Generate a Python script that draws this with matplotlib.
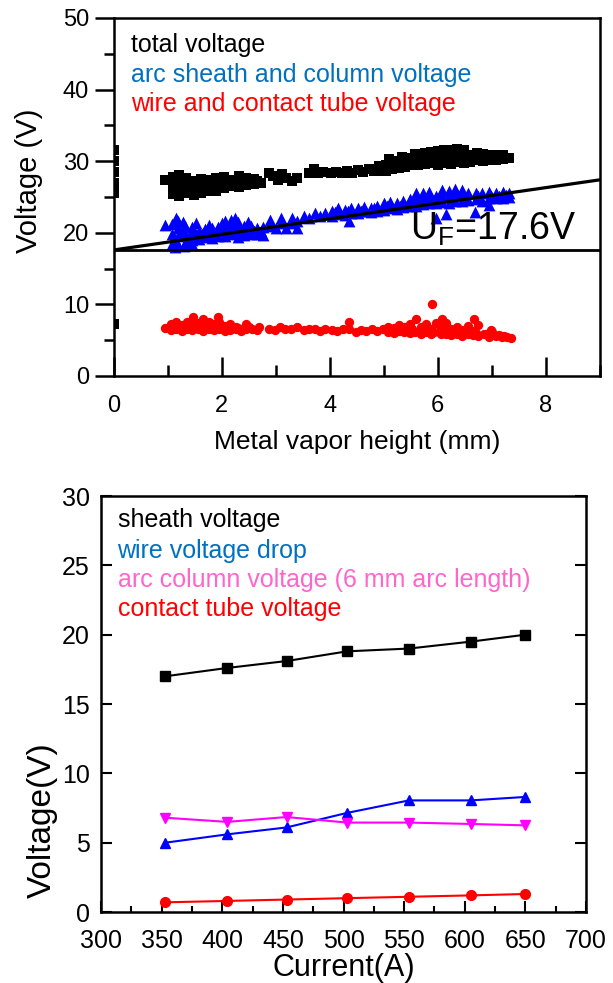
import numpy as np
import matplotlib
matplotlib.use("Agg")
import matplotlib.pyplot as plt
from matplotlib.ticker import MultipleLocator

plt.rcParams['font.family'] = ['Liberation Sans', 'DejaVu Sans']
plt.rcParams['mathtext.fontset'] = 'custom'
plt.rcParams['mathtext.rm'] = 'Liberation Sans'
plt.rcParams['mathtext.it'] = 'Liberation Sans'

# ---- top panel: voltage vs metal vapor height ----
total_x = [0, 0, 0, 0, 0, 0,
           0.95,
           1.10, 1.10, 1.10, 1.22, 1.22, 1.22, 1.22, 1.35, 1.35, 1.35, 1.48, 1.48, 1.48,
           1.62, 1.62, 1.62, 1.76, 1.76, 1.76, 1.90, 1.90, 1.90,
           2.04, 2.04, 2.04, 2.18, 2.18, 2.32, 2.32, 2.32, 2.46, 2.46, 2.60, 2.60, 2.72,
           1.16, 1.28, 1.42, 1.55, 1.69, 1.83, 1.97, 2.11, 2.25, 2.39, 2.53, 2.66,
           2.88, 2.95, 3.05, 3.12, 3.20, 3.30, 3.40,
           3.62, 3.70, 3.78, 3.88,
           4.02, 4.12, 4.22, 4.32, 4.42, 4.52, 4.62, 4.72, 4.82,
           4.92, 4.92, 5.04, 5.04, 5.16, 5.16, 5.28, 5.28, 5.40, 5.40,
           5.10, 5.34, 5.58,
           5.52, 5.52, 5.64, 5.64, 5.64, 5.76, 5.76, 5.76, 5.88, 5.88, 5.88,
           6.00, 6.00, 6.00, 6.12, 6.12, 6.12, 6.24, 6.24, 6.24, 6.36, 6.36, 6.36, 6.48, 6.48, 6.48,
           6.60, 6.60, 6.72, 6.72, 6.84, 6.84, 6.96, 6.96,
           7.08, 7.08, 7.20, 7.20, 7.32]
total_y = [25.5, 27.0, 28.5, 30.0, 31.5, 7.2,
           27.4,
           25.4, 26.6, 27.8, 25.2, 26.4, 27.6, 28.1, 25.5, 26.7, 27.6, 25.3, 26.4, 27.3,
           25.6, 26.7, 27.5, 25.8, 26.9, 27.4, 25.9, 26.8, 27.6,
           26.3, 27.2, 27.8, 26.5, 27.4, 26.4, 27.3, 27.9, 26.7, 27.6, 26.8, 27.5, 26.9,
           26.0, 27.0, 25.9, 27.0, 26.1, 26.3, 27.1, 26.9, 26.8, 27.1, 27.2, 27.2,
           28.3, 27.9, 27.4, 28.2, 27.6, 27.3, 27.6,
           28.4, 28.9, 28.3, 28.5,
           28.4, 28.5, 28.3, 28.6, 28.4, 28.8, 28.5, 28.9, 28.6,
           28.6, 29.3, 28.7, 29.5, 28.9, 29.8, 29.0, 30.0, 29.2, 30.2,
           30.3, 30.6, 31.0,
           29.4, 30.4, 29.5, 30.6, 31.0, 29.6, 30.5, 31.2, 29.7, 30.8, 31.3,
           29.5, 30.5, 31.4, 29.8, 30.7, 31.6, 29.6, 30.6, 31.6, 29.9, 30.9, 31.7, 29.7, 30.8, 31.5,
           29.9, 30.8, 30.1, 31.1, 30.0, 31.0, 30.2, 30.9,
           30.1, 30.9, 30.3, 30.8, 30.4]

arc_x = [0.95,
         1.08, 1.08, 1.08, 1.15, 1.20, 1.20, 1.20, 1.20, 1.32, 1.32, 1.32, 1.45, 1.45, 1.45,
         1.58, 1.58, 1.70, 1.70, 1.82, 1.82, 1.94, 1.94,
         2.06, 2.06, 2.06, 2.18, 2.18, 2.18, 2.30, 2.30, 2.30, 2.42, 2.42, 2.54, 2.54, 2.66, 2.66, 2.76, 2.76,
         1.14, 1.26, 1.38, 1.52, 1.64, 1.76, 1.88, 2.00, 2.12, 2.24, 2.36, 2.48, 2.60, 2.72,
         1.28, 1.52, 1.76, 2.00, 2.24, 2.48, 1.14, 1.30, 1.45,
         2.90, 2.90, 3.00, 3.10, 3.10, 3.20, 3.30, 3.30, 3.40, 3.40,
         3.52, 3.62, 3.72, 3.82, 3.92,
         4.04, 4.04, 4.16, 4.16, 4.28, 4.28, 4.36, 4.40, 4.40, 4.52, 4.52, 4.64, 4.64, 4.76, 4.76, 4.88, 4.88,
         5.00, 5.00, 5.12, 5.12, 5.24, 5.24, 5.36, 5.36, 5.48, 5.48,
         5.60, 5.60, 5.60, 5.72, 5.72, 5.72, 5.84, 5.84, 5.84, 5.97, 5.96, 5.96,
         6.08, 6.08, 6.08, 6.15, 6.20, 6.20, 6.20, 6.32, 6.32, 6.32, 6.44, 6.44, 6.44, 6.56, 6.56,
         6.68, 6.70, 6.70, 6.82, 6.82, 6.95, 6.95, 6.95,
         7.08, 7.08, 7.20, 7.20, 7.32, 7.32,
         4.10, 4.34, 4.58, 4.82, 5.06, 5.30, 5.54, 5.78, 6.02, 6.26, 6.50, 6.74, 6.98, 7.14, 7.26]
arc_y = [21.1,
         18.5, 19.8, 21.2, 22.0, 18.3, 19.5, 20.6, 21.6, 18.6, 19.8, 20.9, 19.0, 20.1, 20.8,
         19.2, 20.3, 19.4, 20.5, 19.3, 20.6, 19.6, 20.8,
         19.5, 20.7, 21.6, 19.8, 20.9, 21.8, 19.4, 20.6, 21.5, 19.7, 20.9, 19.8, 21.0, 19.9, 20.6, 19.7, 20.8,
         19.1, 20.1, 19.3, 19.7, 19.9, 20.0, 19.9, 20.2, 20.3, 20.1, 20.2, 20.4, 20.3, 20.2,
         21.5, 21.3, 21.1, 21.3, 22.0, 21.5, 18.0, 18.1, 18.4,
         21.0, 21.8, 20.6, 21.3, 22.0, 20.7, 21.4, 22.1, 20.6, 21.6,
         22.4, 22.1, 22.7, 22.3, 22.8,
         22.4, 23.1, 22.6, 23.4, 22.5, 23.2, 21.6, 22.8, 23.5, 22.7, 23.4, 23.0, 23.6, 22.9, 23.5, 23.1, 23.8,
         23.2, 24.1, 23.4, 24.3, 23.3, 24.2, 23.6, 24.5, 23.7, 24.7,
         23.8, 24.8, 25.5, 24.0, 24.9, 25.6, 24.1, 25.0, 25.7, 22.0, 24.2, 25.1,
         24.3, 25.2, 26.0, 22.6, 24.2, 25.1, 25.9, 24.4, 25.3, 26.1, 24.5, 25.4, 26.0, 24.6, 25.5,
         22.9, 24.7, 25.6, 24.5, 25.5, 23.9, 24.8, 25.7,
         24.8, 25.6, 24.9, 25.7, 25.0, 25.5,
         22.9, 23.0, 23.1, 23.4, 23.7, 23.8, 24.2, 24.5, 24.7, 24.8, 25.0, 25.1, 25.2, 25.2, 25.3]

wire_x = [0.95,
          1.06, 1.06, 1.16, 1.16, 1.26, 1.26, 1.36, 1.36, 1.46, 1.46, 1.47,
          1.56, 1.56, 1.66, 1.66, 1.66, 1.76, 1.76, 1.86, 1.86, 1.93, 1.96, 1.96,
          2.06, 2.06, 2.16, 2.16, 2.26, 2.26, 2.36, 2.46, 2.46, 2.56, 2.66, 2.70,
          1.11, 1.31, 1.51, 1.71, 1.91, 2.11, 2.31, 2.51,
          2.88, 2.98, 3.08, 3.18, 3.28, 3.40,
          3.52, 3.62, 3.72, 3.82, 3.92,
          4.04, 4.14, 4.24, 4.36, 4.36, 4.48, 4.58, 4.68, 4.78, 4.88, 4.98,
          5.08, 5.08, 5.18, 5.18, 5.28, 5.28, 5.38, 5.38, 5.48, 5.48, 5.58, 5.60, 5.68, 5.68,
          5.78, 5.78, 5.88, 5.88, 5.90, 5.96,
          5.13, 5.33, 5.53, 5.73, 5.93,
          6.05, 6.05, 6.08, 6.15, 6.15, 6.15, 6.25, 6.25, 6.35, 6.35, 6.45, 6.45, 6.55, 6.55,
          6.67, 6.65, 6.65, 6.75, 6.75, 6.85, 6.95, 6.98,
          6.10, 6.30, 6.50, 6.70, 6.90, 7.00, 7.13, 7.23,
          7.08, 7.18, 7.28, 7.35]
wire_y = [6.7,
          6.4, 7.3, 6.5, 7.6, 6.3, 7.1, 6.6, 7.5, 6.4, 7.2, 8.2,
          6.5, 7.4, 6.3, 7.2, 8.0, 6.6, 7.5, 6.4, 7.3, 8.3, 6.5, 7.6,
          6.3, 7.0, 6.4, 7.2, 6.5, 6.9, 6.3, 6.5, 7.3, 6.6, 6.4, 6.8,
          6.9, 6.9, 6.9, 6.9, 6.9, 6.7, 6.7, 6.9,
          6.5, 6.4, 6.8, 6.5, 6.6, 6.9,
          6.4, 6.5, 6.6, 6.3, 6.5,
          6.4, 6.3, 6.6, 7.6, 6.5, 6.2, 6.4, 6.3, 6.6, 6.3, 6.5,
          6.2, 6.9, 6.0, 6.7, 6.3, 7.1, 6.1, 6.8, 6.0, 7.3, 6.2, 8.0, 5.9, 6.8,
          6.1, 7.2, 5.8, 6.6, 10.1, 7.4,
          6.5, 6.6, 6.6, 6.4, 6.2,
          5.9, 6.7, 7.9, 5.8, 6.5, 7.4, 5.7, 6.6, 5.8, 6.9, 5.6, 6.4, 5.9, 7.0,
          8.0, 5.7, 6.3, 5.6, 7.1, 5.8, 5.5, 6.4,
          6.2, 6.3, 6.1, 6.0, 5.9, 6.1, 5.7, 5.6,
          5.6, 5.4, 5.5, 5.3]

fit_x = [0, 9]
fit_y = [17.6, 27.4]
uf_level = 17.6

# ---- bottom panel: voltage vs current ----
current = [353, 404, 453, 503, 554, 605, 650]
sheath_v = [17.0, 17.6, 18.1, 18.8, 19.0, 19.5, 20.0]
wire_drop = [5.0, 5.6, 6.1, 7.15, 8.05, 8.05, 8.3]
column_v = [6.8, 6.5, 6.85, 6.45, 6.45, 6.35, 6.25]
tube_v = [0.7, 0.8, 0.9, 1.0, 1.1, 1.2, 1.3]

fig = plt.figure(figsize=(6.13, 9.83), dpi=100)

# top axes
ax1 = fig.add_axes([0.1852, 0.6175, 0.7936, 0.3642])
ax1.scatter(total_x, total_y, marker='s', s=48, color='black', linewidths=0, zorder=3)
ax1.scatter(arc_x, arc_y, marker='^', s=72, color='#0000FF', linewidths=0, zorder=3)
ax1.scatter(wire_x, wire_y, marker='o', s=45, color='#FF0000', linewidths=0, zorder=3)
ax1.plot(fit_x, fit_y, color='black', lw=2.3, zorder=4)
ax1.axhline(uf_level, color='black', lw=2.0, zorder=4)
ax1.set_xlim(0, 9)
ax1.set_ylim(0, 50)
ax1.xaxis.set_major_locator(MultipleLocator(2))
ax1.xaxis.set_minor_locator(MultipleLocator(1))
ax1.yaxis.set_major_locator(MultipleLocator(10))
ax1.yaxis.set_minor_locator(MultipleLocator(5))
ax1.tick_params(axis='x', which='both', direction='in', top=False, labelsize=17, width=1.8, pad=14)
ax1.tick_params(axis='x', which='major', length=14)
ax1.tick_params(axis='x', which='minor', length=8)
ax1.tick_params(axis='y', which='both', direction='out', right=False, labelsize=17, width=1.8)
ax1.tick_params(axis='y', which='major', length=14)
ax1.tick_params(axis='y', which='minor', length=7)
for sp in ax1.spines.values():
    sp.set_linewidth(1.8)
ax1.set_xlabel('Metal vapor height (mm)', fontsize=19, labelpad=9)
ax1.set_ylabel('Voltage (V)', fontsize=21)
ax1.yaxis.set_label_coords(-0.145, 0.545)
ax1.text(0.32, 46.2, 'total voltage', color='black', fontsize=18, va='center')
ax1.text(0.32, 42.0, 'arc sheath and column voltage', color='#0070C0', fontsize=18, va='center')
ax1.text(0.32, 38.0, 'wire and contact tube voltage', color='#FF0000', fontsize=18, va='center')
ax1.text(5.49, 19.1, r'U$_\mathrm{F}$=17.6V', color='black', fontsize=27, va='baseline', zorder=5)

# bottom axes
ax2 = fig.add_axes([0.1648, 0.0722, 0.7912, 0.4232])
ax2.plot(current, sheath_v, color='black', marker='s', ms=6.5, lw=1.5)
ax2.plot(current, wire_drop, color='#0000FF', marker='^', ms=7.5, lw=1.5)
ax2.plot(current, column_v, color='#FF00FF', marker='v', ms=7.5, lw=1.5)
ax2.plot(current, tube_v, color='#FF0000', marker='o', ms=7, lw=1.5)
ax2.set_xlim(300, 700)
ax2.set_ylim(0, 30)
ax2.xaxis.set_major_locator(MultipleLocator(50))
ax2.xaxis.set_minor_locator(MultipleLocator(25))
ax2.yaxis.set_major_locator(MultipleLocator(5))
ax2.tick_params(which='both', direction='in', right=True, top=False, labelsize=18, width=1.5)
ax2.tick_params(which='major', length=8)
ax2.tick_params(which='minor', length=4)
ax2.tick_params(axis='x', pad=12)
ax2.tick_params(axis='y', pad=8)
for sp in ax2.spines.values():
    sp.set_linewidth(1.8)
ax2.set_xlabel('Current(A)', fontsize=22, labelpad=0)
ax2.set_ylabel('Voltage(V)', fontsize=24)
ax2.yaxis.set_label_coords(-0.088, 0.221)
ax2.text(313.6, 28.26, 'sheath voltage', color='black', fontsize=18, va='center')
ax2.text(313.6, 26.06, 'wire voltage drop', color='#0070C0', fontsize=18, va='center')
ax2.text(313.6, 23.94, 'arc column voltage (6 mm arc length)', color='#FF66CC', fontsize=18, va='center')
ax2.text(313.6, 21.85, 'contact tube voltage', color='#FF0000', fontsize=18, va='center')

fig.savefig('out.png', dpi=100)
